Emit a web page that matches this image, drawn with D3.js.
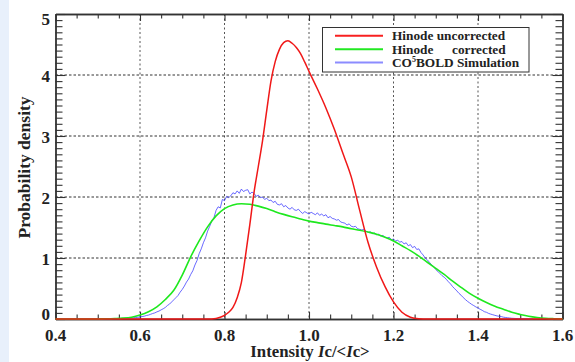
<!DOCTYPE html>
<html><head><meta charset="utf-8">
<script src="https://cdn.jsdelivr.net/npm/d3@7"></script>
<style>body{margin:0;background:#fff}svg{display:block}</style>
</head><body>
<svg id="c" width="575" height="362"></svg>
<script>
const xTickLabels = ["0.4","0.6","0.8","1.0","1.2","1.4","1.6"];
const xTicks = [0.4,0.6,0.8,1.0,1.2,1.4,1.6];
const yTicks = [0,1,2,3,4,5];
const legendLabels = ["Hinode uncorrected","Hinode","CO"];

const redSeries = [[0.40,0],[0.76,0],[0.78,0.01],[0.79,0.03],[0.80,0.06],[0.81,0.11],[0.82,0.19],[0.83,0.35],[0.84,0.6],[0.85,1.05],[0.86,1.55],[0.87,2.08],[0.88,2.5],[0.89,2.92],[0.90,3.42],[0.91,3.9],[0.92,4.22],[0.93,4.42],[0.94,4.53],[0.95,4.56],[0.96,4.52],[0.97,4.45],[0.98,4.35],[0.99,4.21],[1.00,4.06],[1.02,3.77],[1.04,3.46],[1.06,3.11],[1.08,2.72],[1.10,2.33],[1.12,1.78],[1.14,1.25],[1.16,0.85],[1.18,0.53],[1.20,0.28],[1.22,0.11],[1.24,0.03],[1.26,0.005],[1.28,0],[1.60,0]];

const greenSeries = [[0.40,0],[0.45,0],[0.50,0.001],[0.52,0.003],[0.54,0.007],[0.56,0.014],[0.58,0.03],[0.60,0.066],[0.62,0.12],[0.64,0.2],[0.66,0.32],[0.68,0.47],[0.70,0.72],[0.72,1.02],[0.74,1.28],[0.76,1.51],[0.78,1.69],[0.80,1.81],[0.82,1.87],[0.84,1.89],[0.86,1.88],[0.88,1.85],[0.90,1.81],[0.92,1.76],[0.94,1.715],[0.96,1.675],[0.98,1.64],[1.00,1.605],[1.02,1.58],[1.04,1.555],[1.06,1.533],[1.08,1.51],[1.10,1.48],[1.12,1.455],[1.14,1.425],[1.16,1.39],[1.18,1.34],[1.20,1.28],[1.22,1.20],[1.24,1.12],[1.26,1.03],[1.28,0.93],[1.30,0.83],[1.32,0.73],[1.34,0.62],[1.36,0.52],[1.38,0.42],[1.40,0.34],[1.42,0.27],[1.44,0.21],[1.46,0.16],[1.48,0.11],[1.50,0.075],[1.52,0.045],[1.54,0.025],[1.56,0.012],[1.58,0.005],[1.60,0]];

const blueSeries = [[0.500,0],[0.505,0],[0.510,0],[0.515,0.001],[0.520,0.002],[0.525,0.002],[0.530,0.003],[0.535,0.004],[0.540,0.005],[0.545,0.006],[0.550,0.007],[0.555,0.009],[0.560,0.010],[0.565,0.012],[0.570,0.014],[0.575,0.016],[0.580,0.018],[0.585,0.021],[0.590,0.024],[0.595,0.028],[0.600,0.033],[0.605,0.040],[0.610,0.046],[0.615,0.057],[0.620,0.064],[0.625,0.077],[0.630,0.090],[0.635,0.10],[0.640,0.117],[0.645,0.13],[0.650,0.15],[0.655,0.168],[0.660,0.19],[0.665,0.222],[0.670,0.245],[0.675,0.28],[0.680,0.315],[0.685,0.35],[0.690,0.385],[0.695,0.44],[0.700,0.485],[0.705,0.54],[0.710,0.605],[0.715,0.655],[0.720,0.73],[0.725,0.79],[0.730,0.885],[0.735,0.96],[0.740,1.07],[0.745,1.15],[0.750,1.25],[0.755,1.33],[0.760,1.44],[0.765,1.52],[0.770,1.61],[0.775,1.66],[0.780,1.78],[0.785,1.84],[0.790,1.82],[0.795,1.96],[0.800,1.94],[0.805,2.01],[0.810,1.99],[0.815,2.02],[0.820,2.07],[0.825,2.05],[0.830,2.10],[0.835,2.06],[0.840,2.13],[0.845,2.09],[0.850,2.11],[0.855,2.12],[0.860,2.05],[0.865,2.08],[0.870,2.06],[0.875,2.01],[0.880,2.03],[0.885,1.99],[0.890,2.00],[0.895,1.96],[0.900,1.98],[0.905,1.94],[0.910,1.95],[0.915,1.91],[0.920,1.93],[0.925,1.88],[0.930,1.87],[0.935,1.89],[0.940,1.84],[0.945,1.86],[0.950,1.82],[0.955,1.80],[0.960,1.83],[0.965,1.79],[0.970,1.78],[0.975,1.80],[0.980,1.76],[0.985,1.73],[0.990,1.76],[0.995,1.74],[1.000,1.72],[1.005,1.75],[1.010,1.73],[1.015,1.71],[1.020,1.74],[1.025,1.70],[1.030,1.72],[1.035,1.69],[1.040,1.71],[1.045,1.66],[1.050,1.68],[1.055,1.65],[1.060,1.64],[1.065,1.62],[1.070,1.63],[1.075,1.59],[1.080,1.58],[1.085,1.57],[1.090,1.54],[1.095,1.56],[1.100,1.52],[1.105,1.51],[1.110,1.52],[1.115,1.48],[1.120,1.47],[1.125,1.46],[1.130,1.47],[1.135,1.44],[1.140,1.42],[1.145,1.43],[1.150,1.40],[1.155,1.41],[1.160,1.38],[1.165,1.39],[1.170,1.36],[1.175,1.37],[1.180,1.34],[1.185,1.33],[1.190,1.34],[1.195,1.30],[1.200,1.31],[1.205,1.28],[1.210,1.29],[1.215,1.26],[1.220,1.27],[1.225,1.23],[1.230,1.25],[1.235,1.20],[1.240,1.22],[1.245,1.17],[1.250,1.19],[1.255,1.14],[1.260,1.15],[1.265,1.09],[1.270,1.05],[1.275,1.00],[1.280,0.97],[1.285,0.93],[1.290,0.89],[1.295,0.86],[1.300,0.81],[1.305,0.78],[1.310,0.745],[1.315,0.71],[1.320,0.685],[1.325,0.65],[1.330,0.61],[1.335,0.575],[1.340,0.53],[1.345,0.495],[1.350,0.46],[1.355,0.42],[1.360,0.39],[1.365,0.352],[1.370,0.32],[1.375,0.29],[1.380,0.265],[1.385,0.24],[1.390,0.22],[1.395,0.198],[1.400,0.18],[1.405,0.16],[1.410,0.142],[1.415,0.12],[1.420,0.11],[1.425,0.092],[1.430,0.08],[1.435,0.07],[1.440,0.06],[1.445,0.05],[1.450,0.045],[1.455,0.04],[1.460,0.03],[1.465,0.025],[1.470,0.02],[1.475,0.016],[1.480,0.012],[1.485,0.01],[1.490,0.008],[1.495,0.006],[1.500,0.005],[1.510,0.003],[1.520,0.001],[1.530,0]];

const svg = d3.select("#c");
const FONT = "'Liberation Serif','Times New Roman',serif";
const L = 55.5, R = 562.5, T = 14, B = 319;
const x = d3.scaleLinear().domain([0.4,1.6]).range([L,R]);
const y = d3.scaleLinear().domain([0,5]).range([B,T]);

svg.append("rect").attr("x",0).attr("y",0).attr("width",9).attr("height",362).attr("fill","#e8f0fb");

// gridlines
const g = svg.append("g");
g.selectAll(".vg").data(xTicks.slice(1,-1)).join("line")
  .attr("x1",d=>x(d)).attr("x2",d=>x(d)).attr("y1",T).attr("y2",B)
  .attr("stroke","#555").attr("stroke-width",1).attr("stroke-dasharray","2,2.5");
g.selectAll(".hg").data(yTicks.slice(1,-1)).join("line")
  .attr("x1",L).attr("x2",R).attr("y1",d=>y(d)).attr("y2",d=>y(d))
  .attr("stroke","#333").attr("stroke-width",1).attr("stroke-dasharray","2.5,2");

// axes with inward ticks
const xMinor = d3.range(0.4,1.6001,0.05).filter(v=>Math.abs(Math.round(v*5)-v*5)>1e-6);
const yMinor = d3.range(0,5.0001,0.1).filter(v=>Math.abs(Math.round(v)-v)>1e-6);
const axB = d3.axisBottom(x).tickValues(xTicks).tickSizeInner(-7).tickSizeOuter(0).tickFormat("");
const axBm = d3.axisBottom(x).tickValues(xMinor).tickSizeInner(-4.5).tickSizeOuter(0).tickFormat("");
const axT = d3.axisTop(x).tickValues(xTicks).tickSizeInner(-7).tickSizeOuter(0).tickFormat("");
const axTm = d3.axisTop(x).tickValues(xMinor).tickSizeInner(-4.5).tickSizeOuter(0).tickFormat("");
const axL = d3.axisLeft(y).tickValues(yTicks).tickSizeInner(-10).tickSizeOuter(0).tickFormat("");
const axLm = d3.axisLeft(y).tickValues(yMinor).tickSizeInner(-7).tickSizeOuter(0).tickFormat("");
const axR = d3.axisRight(y).tickValues(yTicks).tickSizeInner(-10).tickSizeOuter(0).tickFormat("");
const axRm = d3.axisRight(y).tickValues(yMinor).tickSizeInner(-7).tickSizeOuter(0).tickFormat("");
const axesG = svg.append("g");
[[axB,`translate(0,${B})`],[axBm,`translate(0,${B})`],[axT,`translate(0,${T})`],[axTm,`translate(0,${T})`],
 [axL,`translate(${L},0)`],[axLm,`translate(${L},0)`],[axR,`translate(${R},0)`],[axRm,`translate(${R},0)`]]
.forEach(([a,t])=>{
  const gg = axesG.append("g").attr("transform",t).call(a);
  gg.selectAll("line").attr("stroke","#333").attr("stroke-width",1.1);
  gg.select(".domain").attr("stroke","#333").attr("stroke-width",1.4);
});

// curves
const line = d3.line().x(d=>x(d[0])).y(d=>y(d[1]));
const smooth = d3.line().x(d=>x(d[0])).y(d=>y(d[1])).curve(d3.curveMonotoneX);
svg.append("path").datum(blueSeries).attr("d",line).attr("fill","none").attr("stroke","#3a3aff").attr("stroke-width",0.9).attr("stroke-opacity",0.85);
svg.append("path").datum(greenSeries).attr("d",smooth).attr("fill","none").attr("stroke","#1ee81e").attr("stroke-width",1.6);
svg.append("path").datum(redSeries).attr("d",smooth).attr("fill","none").attr("stroke","#f01818").attr("stroke-width",1.5);

// tick labels
svg.append("g").selectAll("text").data(xTicks).join("text")
  .attr("x",d=>x(d)).attr("y",340.5).attr("text-anchor","middle")
  .attr("font-family",FONT).attr("font-weight","bold").attr("font-size",17).attr("fill","#222")
  .text((d,i)=>xTickLabels[i]);
svg.append("g").selectAll("text").data(yTicks).join("text")
  .attr("x",50).attr("y",d=>y(d)+6.5+(d===0?-6:0)+(d===5?4:0)).attr("text-anchor","end")
  .attr("font-family",FONT).attr("font-weight","bold").attr("font-size",17).attr("fill","#222")
  .text(d=>d);

// axis titles
const xt = svg.append("text").attr("x",310).attr("y",357).attr("text-anchor","middle")
  .attr("font-family",FONT).attr("font-weight","bold").attr("font-size",16.8).attr("fill","#222");
xt.append("tspan").text("Intensity ");
xt.append("tspan").attr("font-style","italic").text("I");
xt.append("tspan").text("c/<");
xt.append("tspan").attr("font-style","italic").text("I");
xt.append("tspan").text("c>");
svg.append("text").attr("transform","translate(30,167.5) rotate(-90)").attr("text-anchor","middle")
  .attr("font-family",FONT).attr("font-weight","bold").attr("font-size",17.5).attr("fill","#222")
  .text("Probability density");

// legend
const lg = svg.append("g");
lg.append("rect").attr("x",322.5).attr("y",27.5).attr("width",206.5).attr("height",44.5)
  .attr("fill","#fff").attr("stroke","#333").attr("stroke-width",1);
const legendColors = ["#f82020","#22e822","#8c8cff"];
const rowsY = [35.8,49.3,62.6];
lg.selectAll("line").data(legendColors).join("line")
  .attr("x1",335).attr("x2",383).attr("y1",(d,i)=>rowsY[i]).attr("y2",(d,i)=>rowsY[i])
  .attr("stroke",d=>d).attr("stroke-width",2);
const tx = (i)=>lg.append("text").attr("x",392).attr("y",rowsY[i]+4.5)
  .attr("font-family",FONT).attr("font-weight","bold").attr("font-size",13.3).attr("fill","#222");
tx(0).text(legendLabels[0]);
const t1 = tx(1); t1.append("tspan").text(legendLabels[1]); t1.append("tspan").attr("x",452).text("corrected");
const t2 = tx(2); t2.append("tspan").text(legendLabels[2]);
t2.append("tspan").attr("font-size",8).attr("dy",-5).text("5");
t2.append("tspan").attr("dy",5).text("BOLD Simulation");
</script>
</body></html>
